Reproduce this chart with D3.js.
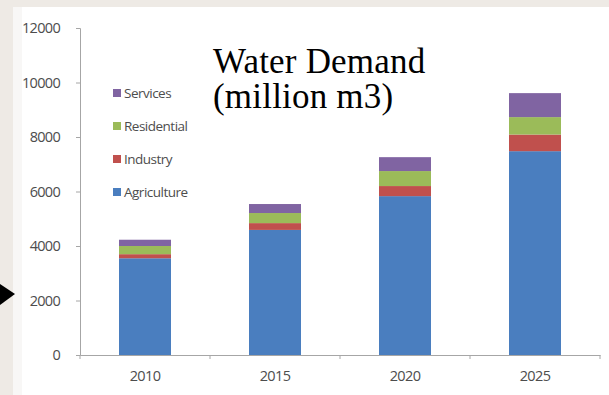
<!DOCTYPE html>
<html>
<head>
<meta charset="utf-8">
<script src="https://cdn.jsdelivr.net/npm/d3@7"></script>
<style>
  body { margin: 0; background: #eeeae5; }
  svg { display: block; }
</style>
</head>
<body>
<div id="wrapper"></div>
<script>
// Data
const years = ["2010", "2015", "2020", "2025"];
const sectors = ["Agriculture", "Industry", "Residential", "Services"];
const agriculture = [3550, 4590, 5830, 7480];
const industry = [150, 250, 370, 610];
const residential = [300, 370, 550, 640];
const services = [230, 330, 510, 880];
const yTicks = [0, 2000, 4000, 6000, 8000, 10000, 12000];
const titleLines = ["Water Demand", "(million m3)"];

const colors = {
  Agriculture: "#4a7ebf",
  Industry: "#c0504d",
  Residential: "#9bbb59",
  Services: "#8064a2",
};

// Dimensions
const width = 609;
const height = 395;
const plot = { left: 80, right: 600, top: 28, bottom: 355 };

const svg = d3
  .select("#wrapper")
  .append("svg")
  .attr("width", width)
  .attr("height", height);

// background panel
svg.append("rect").attr("x", 0).attr("y", 0).attr("width", width).attr("height", height).attr("fill", "#eeeae5");
svg.append("rect").attr("x", 13).attr("y", 7).attr("width", width - 13).attr("height", height - 7).attr("fill", "#f8f7f6");
svg.append("rect").attr("x", 22).attr("y", 7).attr("width", width - 22).attr("height", height - 7).attr("fill", "#ffffff");

// table for stacking
const table = years.map((year, i) => ({
  year: year,
  Agriculture: agriculture[i],
  Industry: industry[i],
  Residential: residential[i],
  Services: services[i],
}));

const stacked = d3.stack().keys(sectors)(table);

const xScale = d3
  .scaleBand()
  .domain(years)
  .range([plot.left, plot.right])
  .paddingInner(0.6)
  .paddingOuter(0.3);

const yScale = d3
  .scaleLinear()
  .domain([0, 12000])
  .range([plot.bottom, plot.top]);

// bars
svg
  .append("g")
  .selectAll("g")
  .data(stacked)
  .join("g")
  .attr("fill", (d) => colors[d.key])
  .selectAll("rect")
  .data((d) => d)
  .join("rect")
  .attr("x", (d) => xScale(d.data.year))
  .attr("y", (d) => yScale(d[1]))
  .attr("width", xScale.bandwidth())
  .attr("height", (d) => yScale(d[0]) - yScale(d[1]));

// y axis
const yAxis = svg
  .append("g")
  .attr("transform", `translate(${plot.left},0)`)
  .call(d3.axisLeft(yScale).tickValues(yTicks).tickSize(4).tickPadding(16).tickFormat(d3.format("d")));
yAxis.select(".domain").attr("stroke", "#a6a6a6");
yAxis.selectAll(".tick line").attr("stroke", "#a6a6a6");
yAxis
  .selectAll(".tick text")
  .attr("fill", "#4d4d4d")
  .style("font-family", "Open Sans")
  .style("font-size", "14.5px")
  .style("letter-spacing", "-0.7px");

// x axis
const xAxis = svg
  .append("g")
  .attr("transform", `translate(0,${plot.bottom})`)
  .call(d3.axisBottom(xScale).tickSize(0).tickPadding(16));
xAxis.select(".domain").attr("stroke", "#a6a6a6");
xAxis.selectAll(".tick text")
  .attr("fill", "#4d4d4d")
  .style("font-family", "Open Sans")
  .style("font-size", "14.5px")
  .style("letter-spacing", "-0.6px");

// tick marks between categories
const boundaries = d3.range(years.length + 1).map((i) => plot.left + i * (plot.right - plot.left) / years.length);
xAxis
  .selectAll(".sep")
  .data(boundaries)
  .join("line")
  .attr("class", "sep")
  .attr("x1", (d) => d)
  .attr("x2", (d) => d)
  .attr("y1", 0)
  .attr("y2", 4)
  .attr("stroke", "#a6a6a6");

// legend (reverse order, top = Services)
const legendItems = sectors.slice().reverse();
const legend = svg
  .append("g")
  .attr("transform", "translate(113,93)");
const legendRow = legend
  .selectAll("g")
  .data(legendItems)
  .join("g")
  .attr("transform", (d, i) => `translate(0,${i * 33})`);
legendRow
  .append("rect")
  .attr("x", 0)
  .attr("y", -4)
  .attr("width", 8)
  .attr("height", 8)
  .attr("fill", (d) => colors[d]);
legendRow
  .append("text")
  .attr("x", 11)
  .attr("y", 0)
  .attr("dy", "0.35em")
  .text((d) => d)
  .attr("fill", "#4d4d4d")
  .style("font-family", "Open Sans")
  .style("font-size", "13.5px")
  .style("letter-spacing", "-0.5px");

// title text
svg
  .append("g")
  .selectAll("text")
  .data(titleLines)
  .join("text")
  .attr("x", 213)
  .attr("y", (d, i) => 73 + i * 35)
  .text((d) => d)
  .attr("fill", "#000")
  .style("font-family", "Liberation Serif")
  .style("font-size", "35px")
  .style("letter-spacing", "0.2px");

// arrow marker on the left
svg
  .append("path")
  .attr("d", d3.line()([[0, 284], [15, 294], [0, 305]]))
  .attr("fill", "#000");
</script>
</body>
</html>
